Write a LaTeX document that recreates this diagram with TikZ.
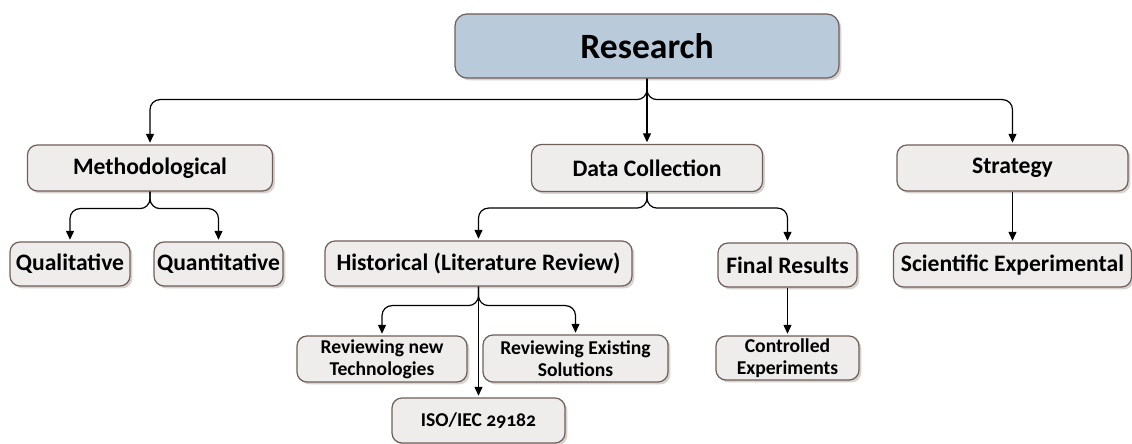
\documentclass[tikz,border=0pt]{standalone}
\usepackage{fontspec}
\setmainfont{Carlito}[Numbers=OldStyle]
\usetikzlibrary{arrows.meta,shadows}
\definecolor{boxfill}{HTML}{EFEDEB}
\definecolor{boxline}{HTML}{6E5F5A}
\definecolor{rootfill}{HTML}{B9CADA}
\definecolor{boxshade}{HTML}{D8D3D0}
\tikzset{
    mapbox/.style={draw=boxline, line width=0.6pt, fill=boxfill, rounded corners=5pt,
        align=center, inner sep=0pt, font=\bfseries\fontsize{11.8}{12.5}\selectfont,
        drop shadow={shadow xshift=1.2pt, shadow yshift=-1.2pt, fill=boxshade, opacity=1}},
    mapleaf/.style={mapbox, font=\bfseries\fontsize{9.8}{10.8}\selectfont},
    maproot/.style={mapbox, fill=rootfill, rounded corners=6pt,
        font=\bfseries\fontsize{17.8}{19}\selectfont},
    maparrow/.style={-{Triangle[width=4pt,length=4.5pt]}, line width=0.6pt,
        rounded corners=5pt, shorten >=0.8pt}
}

\begin{document}
\begin{tikzpicture}[x=0.5pt,y=-0.5pt]
\useasboundingbox (0,0) rectangle (1132,444);
% top level
\node[maproot, minimum width=192pt, minimum height=32pt] (research) at (647,46) {Research};
% categories
\node[mapbox, minimum width=122.5pt, minimum height=23pt] (method) at (150,168) {Methodological};
\node[mapbox, minimum width=115.5pt, minimum height=23.5pt] (datacol) at (647,168) {Data Collection};
\node[mapbox, minimum width=115.5pt, minimum height=23pt] (strategy) at (1012.5,168) {Strategy};
% second row
\node[mapbox, minimum width=60pt, minimum height=22pt] (qual) at (70,264) {Qualitative};
\node[mapbox, minimum width=64.5pt, minimum height=22pt] (quant) at (218.5,264) {Quantitative};
\node[mapbox, minimum width=153.5pt, minimum height=22.5pt] (hist) at (478.5,263.5) {Historical (Literature Review)};
\node[mapbox, minimum width=69.5pt, minimum height=22pt] (final) at (787.5,265) {Final Results};
\node[mapbox, minimum width=119pt, minimum height=22pt] (scient) at (1012.5,265) {Scientific Experimental};
% leaves
\node[mapleaf, minimum width=85pt, minimum height=23pt] (revnew) at (382,359) {Reviewing new\\Technologies};
\node[mapleaf, minimum width=92.5pt, minimum height=23.5pt] (revold) at (575.5,358.5) {Reviewing Existing\\Solutions};
\node[mapleaf, minimum width=86.5pt, minimum height=22.5pt] (iso) at (478.5,420.5) {ISO/IEC 29182};
\node[mapleaf, minimum width=71.5pt, minimum height=22pt] (ctrl) at (787.5,358) {Controlled\\Experiments};
% connectors
\draw[maparrow] (research.south) -- ++(0,21) -| (method.north);
\draw[maparrow] (research.south) -- ++(0,21) -| (strategy.north);
\draw[maparrow] (research) -- (datacol);
\draw[maparrow] (method.south) -- ++(0,17) -| (qual.north);
\draw[maparrow] (method.south) -- ++(0,17) -| (quant.north);
\draw[maparrow] (datacol.south) -- ++(0,16) -| (hist.north);
\draw[maparrow] (datacol.south) -- ++(0,16) -| (final.north);
\draw[maparrow] (strategy) -- (scient);
\draw[maparrow] (hist.south) -- ++(0,19) -| (revnew.north);
\draw[maparrow] (hist.south) -- ++(0,19) -| (revold.north);
\draw[maparrow] (hist) -- (iso);
\draw[maparrow] (final) -- (ctrl);
\end{tikzpicture}
\end{document}
